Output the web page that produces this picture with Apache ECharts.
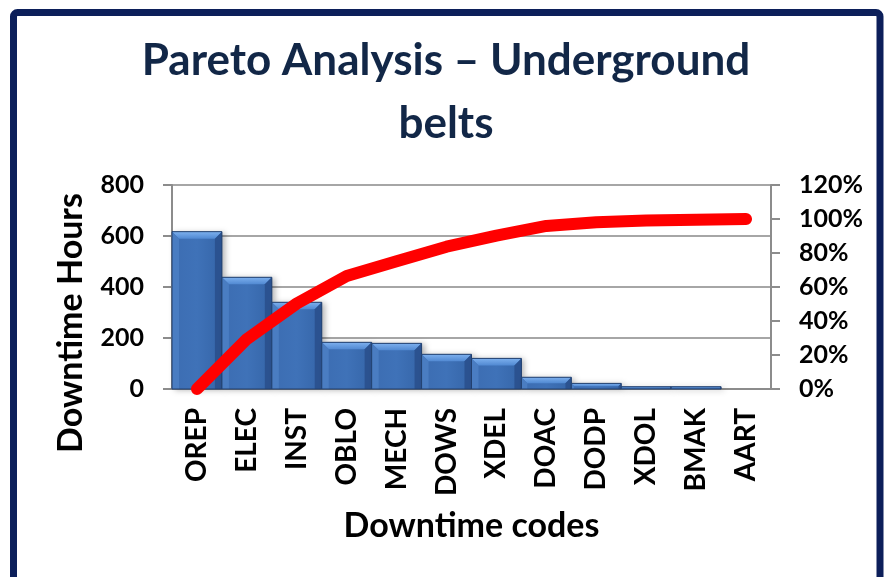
<!DOCTYPE html>
<html>
<head>
<meta charset="utf-8">
<script src="https://cdn.jsdelivr.net/npm/echarts@6/dist/echarts.min.js"></script>
<style>
  html, body { margin: 0; padding: 0; background: #ffffff; }
  #chart { width: 886px; height: 577px; }
</style>
</head>
<body>
<div id="chart"></div>
<script>
// Downtime codes and hours, sorted high to low
const categories = ['OREP', 'ELEC', 'INST', 'OBLO', 'MECH', 'DOWS', 'XDEL', 'DOAC', 'DODP', 'XDOL', 'BMAK', 'AART'];
const downtimeHours = [617, 438, 340, 183, 179, 136, 120, 46, 22, 9, 9, 0];
// Cumulative share of downtime (%), plotted on the right axis
const cumulativePct = [0, 29.4, 50.3, 66.5, 75.2, 83.7, 90.2, 95.9, 98.1, 99.1, 99.6, 100];
// Axis scales
const hoursAxis = { min: 0, max: 800, step: 200 };
const pctAxis = { min: 0, max: 120, step: 20 };
// Title lines
const titleLines = ['Pareto Analysis – Underground', 'belts'];

const FONT = 'Lato, "Open Sans", sans-serif';
const chart = echarts.init(document.getElementById('chart'), null, { renderer: 'canvas' });

// Bevelled column: face, light top bevel, side bevels and a thin dark outline
function renderBevelBar(params, api) {
  const idx = api.value(0);
  const val = api.value(1);
  if (!val) return null;
  const topPt = api.coord([idx, val]);
  const basePt = api.coord([idx, 0]);
  const w = api.size([1, 0])[0];
  const l = topPt[0] - w / 2, r = topPt[0] + w / 2;
  const t = topPt[1], b = basePt[1];
  const h = b - t;
  const bv = Math.max(0, Math.min(7, h / 2, w / 4));
  return {
    type: 'group',
    children: [
      {
        type: 'rect',
        shape: { x: l, y: t, width: w, height: h },
        style: {
          fill: new echarts.graphic.LinearGradient(0, 0, 1, 0, [
            { offset: 0, color: '#3C6DB2' },
            { offset: 0.5, color: '#3F72B8' },
            { offset: 1, color: '#3565A8' }
          ]),
          shadowBlur: 6, shadowOffsetX: 3, shadowOffsetY: 1,
          shadowColor: 'rgba(0,0,0,0.3)'
        }
      },
      {
        type: 'polygon',
        shape: { points: [[l, t], [r, t], [r - bv, t + bv], [l + bv, t + bv]] },
        style: {
          fill: new echarts.graphic.LinearGradient(0, 0, 0, 1, [
            { offset: 0, color: '#7DB0EE' },
            { offset: 1, color: '#5189D2' }
          ])
        }
      },
      {
        type: 'polygon',
        shape: { points: [[l, t], [l + bv, t + bv], [l + bv, b], [l, b]] },
        style: { fill: '#4A7DC2' }
      },
      {
        type: 'polygon',
        shape: { points: [[r, t], [r - bv, t + bv], [r - bv, b], [r, b]] },
        style: { fill: '#2B5290' }
      },
      {
        type: 'rect',
        shape: { x: l, y: t, width: w, height: h },
        style: { fill: 'none', stroke: '#22406F', lineWidth: 1 }
      }
    ]
  };
}

const tickLabelStyle = { color: '#000000', fontFamily: FONT, fontWeight: 'bold', fontSize: 25 };

chart.setOption({
  backgroundColor: '#ffffff',
  animation: false,
  grid: { left: 172, right: 115, top: 185, height: 204, containLabel: false },
  xAxis: {
    type: 'category',
    data: categories,
    boundaryGap: true,
    axisLine: { lineStyle: { color: '#8C8C8C', width: 2 } },
    axisTick: { show: false },
    axisLabel: { ...tickLabelStyle, fontSize: 28, rotate: 90, margin: 19, interval: 0 },
    name: 'Downtime codes',
    nameLocation: 'middle',
    nameGap: 120,
    nameTextStyle: { color: '#000000', fontFamily: FONT, fontWeight: 'bold', fontSize: 34 }
  },
  yAxis: [
    {
      type: 'value',
      min: hoursAxis.min, max: hoursAxis.max, interval: hoursAxis.step,
      axisLine: { show: true, lineStyle: { color: '#8C8C8C', width: 2 } },
      axisTick: { show: true, length: 9, lineStyle: { color: '#8C8C8C', width: 2 } },
      axisLabel: { ...tickLabelStyle, margin: 28 },
      splitLine: { show: true, lineStyle: { color: '#A6A6A6', width: 2 } }
    },
    {
      type: 'value',
      position: 'right',
      min: pctAxis.min, max: pctAxis.max, interval: pctAxis.step,
      axisLine: { show: true, lineStyle: { color: '#8C8C8C', width: 2 } },
      axisTick: { show: true, length: 9, lineStyle: { color: '#8C8C8C', width: 2 } },
      axisLabel: { ...tickLabelStyle, margin: 28, formatter: '{value}%' },
      splitLine: { show: false }
    }
  ],
  series: [
    {
      type: 'custom',
      name: 'Downtime Hours',
      renderItem: renderBevelBar,
      encode: { x: 0, y: 1 },
      data: downtimeHours.map((v, i) => [i, v]),
      z: 2
    },
    {
      type: 'line',
      name: 'Cumulative %',
      yAxisIndex: 1,
      data: cumulativePct,
      symbol: 'none',
      smooth: false,
      clip: false,
      lineStyle: { color: '#FF0000', width: 12, cap: 'round', join: 'round' },
      z: 5
    }
  ],
  graphic: [
    {
      type: 'rect',
      shape: { x: 13.5, y: 12.5, width: 866.5, height: 620, r: 4 },
      style: { fill: 'none', stroke: '#0C1F5A', lineWidth: 7 },
      silent: true,
      z: 10
    },
    {
      type: 'text',
      x: 446, y: 61,
      style: {
        text: titleLines[0],
        fill: '#122747',
        font: 'bold 44px ' + FONT,
        align: 'center',
        verticalAlign: 'middle'
      },
      silent: true
    },
    {
      type: 'text',
      x: 446, y: 124,
      style: {
        text: titleLines[1],
        fill: '#122747',
        font: 'bold 44px ' + FONT,
        align: 'center',
        verticalAlign: 'middle'
      },
      silent: true
    },
    {
      type: 'text',
      x: 71, y: 323,
      rotation: Math.PI / 2,
      style: {
        text: 'Downtime Hours',
        fill: '#000000',
        font: 'bold 34px ' + FONT,
        align: 'center',
        verticalAlign: 'middle'
      },
      silent: true
    }
  ]
});
</script>
</body>
</html>
